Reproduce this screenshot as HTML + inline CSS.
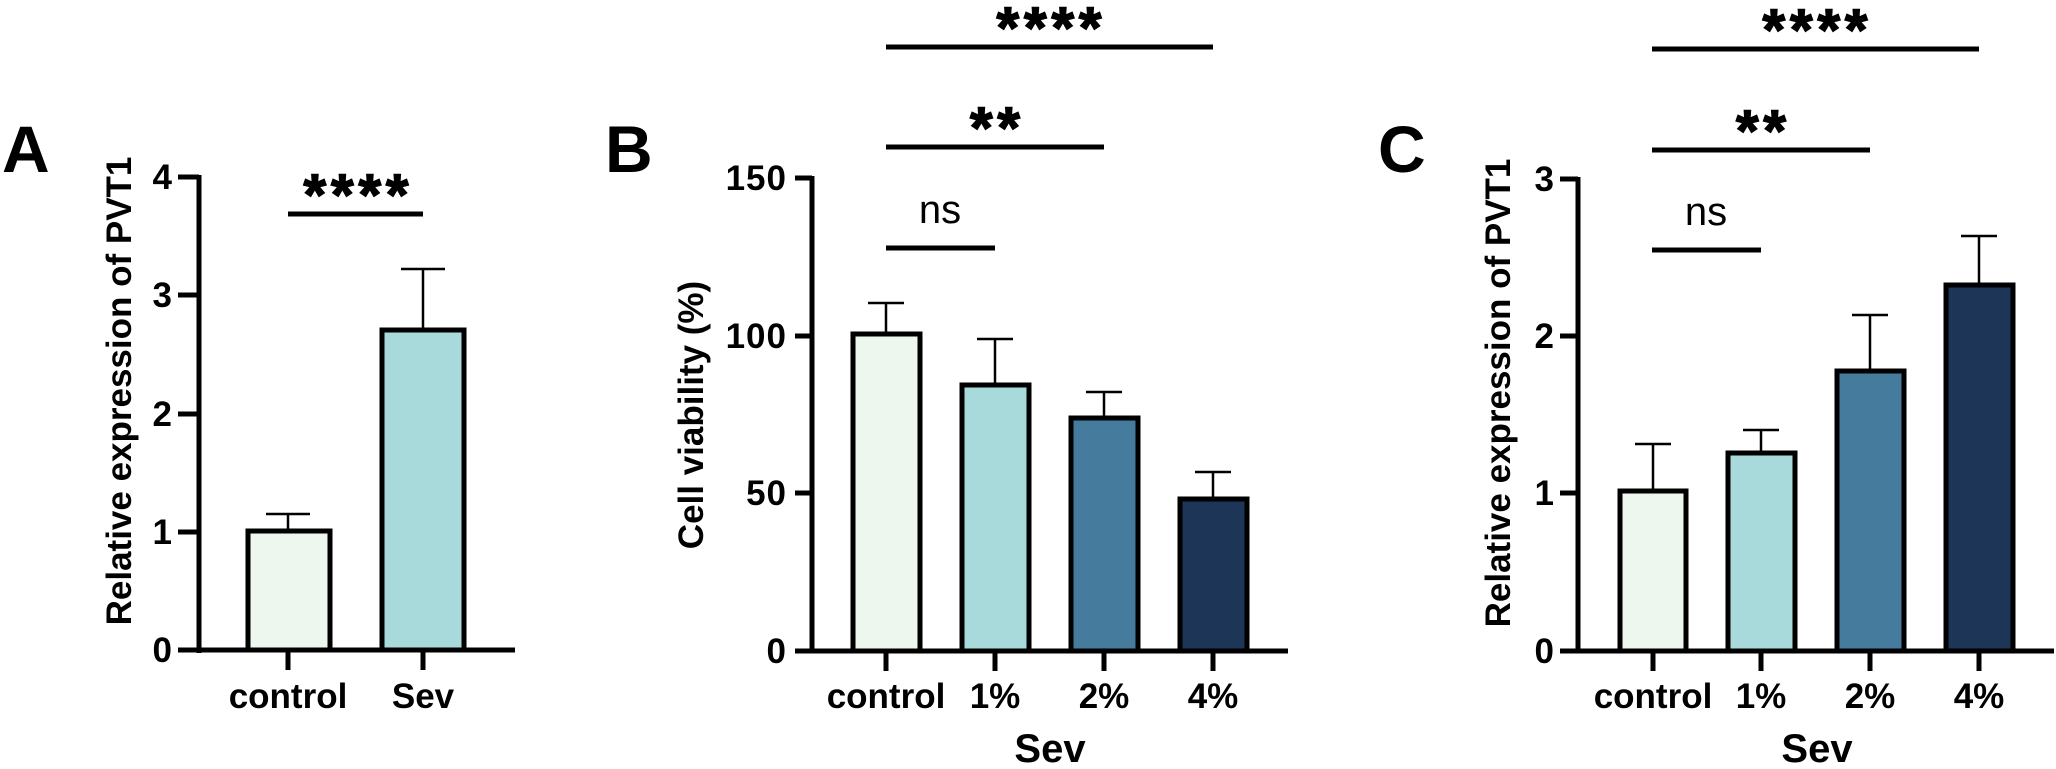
<!DOCTYPE html>
<html><head><meta charset="utf-8"><style>
html,body{margin:0;padding:0;background:#fff;}
svg{display:block;}
text{font-family:"Liberation Sans",Arial,sans-serif;fill:#000;}
.t{font-size:35px;font-weight:bold;letter-spacing:1px;}
.c{font-size:35px;font-weight:bold;}
.sv{font-size:40px;font-weight:bold;}
.ti{font-size:35px;font-weight:bold;}
.L{font-size:66px;font-weight:bold;}
.ns{font-size:40px;}
.st{font-size:58px;font-weight:bold;stroke:#000;stroke-width:1.5px;}
</style></head><body>
<svg width="2056" height="769" viewBox="0 0 2056 769" xmlns="http://www.w3.org/2000/svg">
<g stroke="#000" fill="none">
<!-- Panel A -->
<line x1="199" y1="175" x2="199" y2="653" stroke-width="5"/>
<line x1="178" y1="650" x2="515" y2="650" stroke-width="5"/>
<g stroke-width="5">
<line x1="178" y1="177" x2="199" y2="177"/><line x1="178" y1="295" x2="199" y2="295"/>
<line x1="178" y1="414" x2="199" y2="414"/><line x1="178" y1="532" x2="199" y2="532"/>
<line x1="288" y1="650" x2="288" y2="670"/><line x1="423" y1="650" x2="423" y2="670"/>
</g>
<g stroke-width="2.5">
<line x1="288" y1="531" x2="288" y2="514"/><line x1="266" y1="514" x2="310" y2="514"/>
<line x1="423" y1="330" x2="423" y2="269"/><line x1="401" y1="269" x2="445" y2="269"/>
</g>
<rect x="248" y="531" width="82" height="119" fill="#eef7ee" stroke-width="5"/>
<rect x="382" y="330" width="82" height="320" fill="#a8dadc" stroke-width="5"/>
<line x1="288" y1="214" x2="423" y2="214" stroke-width="5"/>

<!-- Panel B -->
<line x1="812" y1="176" x2="812" y2="653" stroke-width="5"/>
<line x1="795" y1="651" x2="1288" y2="651" stroke-width="5"/>
<g stroke-width="5">
<line x1="795" y1="178" x2="812" y2="178"/><line x1="795" y1="336" x2="812" y2="336"/>
<line x1="795" y1="493" x2="812" y2="493"/>
<line x1="886" y1="651" x2="886" y2="671"/><line x1="995" y1="651" x2="995" y2="671"/>
<line x1="1104" y1="651" x2="1104" y2="671"/><line x1="1213" y1="651" x2="1213" y2="671"/>
</g>
<g stroke-width="2.5">
<line x1="886" y1="334" x2="886" y2="303"/><line x1="868" y1="303" x2="904" y2="303"/>
<line x1="995" y1="385" x2="995" y2="339"/><line x1="977" y1="339" x2="1013" y2="339"/>
<line x1="1104" y1="418" x2="1104" y2="392"/><line x1="1086" y1="392" x2="1122" y2="392"/>
<line x1="1213" y1="499" x2="1213" y2="472"/><line x1="1195" y1="472" x2="1231" y2="472"/>
</g>
<rect x="853" y="334" width="67" height="317" fill="#eef7ee" stroke-width="5"/>
<rect x="962" y="385" width="67" height="266" fill="#a8dadc" stroke-width="5"/>
<rect x="1071" y="418" width="67" height="233" fill="#457b9d" stroke-width="5"/>
<rect x="1180" y="499" width="67" height="152" fill="#1d3557" stroke-width="5"/>
<g stroke-width="5">
<line x1="886" y1="248" x2="995" y2="248"/>
<line x1="886" y1="147" x2="1104" y2="147"/>
<line x1="886" y1="47" x2="1213" y2="47"/>
</g>

<!-- Panel C -->
<line x1="1578" y1="177" x2="1578" y2="653" stroke-width="5"/>
<line x1="1560" y1="651" x2="2054" y2="651" stroke-width="5"/>
<g stroke-width="5">
<line x1="1560" y1="179" x2="1578" y2="179"/><line x1="1560" y1="336" x2="1578" y2="336"/>
<line x1="1560" y1="493" x2="1578" y2="493"/>
<line x1="1653" y1="651" x2="1653" y2="671"/><line x1="1761" y1="651" x2="1761" y2="671"/>
<line x1="1870" y1="651" x2="1870" y2="671"/><line x1="1979" y1="651" x2="1979" y2="671"/>
</g>
<g stroke-width="2.5">
<line x1="1653" y1="491" x2="1653" y2="444"/><line x1="1635" y1="444" x2="1671" y2="444"/>
<line x1="1761" y1="453" x2="1761" y2="430"/><line x1="1743" y1="430" x2="1779" y2="430"/>
<line x1="1870" y1="371" x2="1870" y2="315"/><line x1="1852" y1="315" x2="1888" y2="315"/>
<line x1="1979" y1="285" x2="1979" y2="236"/><line x1="1961" y1="236" x2="1997" y2="236"/>
</g>
<rect x="1620" y="491" width="66" height="160" fill="#eef7ee" stroke-width="5"/>
<rect x="1728" y="453" width="67" height="198" fill="#a8dadc" stroke-width="5"/>
<rect x="1837" y="371" width="67" height="280" fill="#457b9d" stroke-width="5"/>
<rect x="1946" y="285" width="67" height="366" fill="#1d3557" stroke-width="5"/>
<g stroke-width="5">
<line x1="1652" y1="250" x2="1761" y2="250"/>
<line x1="1652" y1="150" x2="1870" y2="150"/>
<line x1="1652" y1="49" x2="1979" y2="49"/>
</g>
</g>

<!-- Text A -->
<text class="L" x="2" y="172">A</text>
<g class="t" text-anchor="end">
<text x="173" y="189">4</text><text x="173" y="307">3</text><text x="173" y="426">2</text>
<text x="173" y="544">1</text><text x="173" y="662">0</text>
</g>
<text class="c" x="288" y="708" text-anchor="middle">control</text>
<text class="c" x="423" y="708" text-anchor="middle">Sev</text>
<text class="ti" transform="translate(131,391) rotate(-90)" text-anchor="middle">Relative expression of PVT1</text>
<text class="st" x="356" y="215" text-anchor="middle" textLength="105" lengthAdjust="spacing">****</text>

<!-- Text B -->
<text class="L" x="605" y="172">B</text>
<g class="t" text-anchor="end">
<text x="787" y="190">150</text><text x="787" y="348">100</text><text x="787" y="505">50</text>
<text x="787" y="663">0</text>
</g>
<g class="c" text-anchor="middle">
<text x="886" y="708">control</text><text x="995" y="708">1%</text>
<text x="1104" y="708">2%</text><text x="1213" y="708">4%</text>
</g>
<text class="sv" x="1050" y="762" text-anchor="middle">Sev</text>
<text class="ti" transform="translate(703,415) rotate(-90)" text-anchor="middle">Cell viability (%)</text>
<text class="ns" x="940" y="223" text-anchor="middle">ns</text>
<text class="st" x="995" y="148" text-anchor="middle" textLength="50" lengthAdjust="spacing">**</text>
<text class="st" x="1049" y="48" text-anchor="middle" textLength="105" lengthAdjust="spacing">****</text>

<!-- Text C -->
<text class="L" x="1378" y="172">C</text>
<g class="t" text-anchor="end">
<text x="1555" y="191">3</text><text x="1555" y="348">2</text><text x="1555" y="505">1</text>
<text x="1555" y="663">0</text>
</g>
<g class="c" text-anchor="middle">
<text x="1653" y="708">control</text><text x="1761" y="708">1%</text>
<text x="1870" y="708">2%</text><text x="1979" y="708">4%</text>
</g>
<text class="sv" x="1817" y="762" text-anchor="middle">Sev</text>
<text class="ti" transform="translate(1510,393) rotate(-90)" text-anchor="middle">Relative expression of PVT1</text>
<text class="ns" x="1706" y="225" text-anchor="middle">ns</text>
<text class="st" x="1761" y="151" text-anchor="middle" textLength="50" lengthAdjust="spacing">**</text>
<text class="st" x="1815" y="50" text-anchor="middle" textLength="105" lengthAdjust="spacing">****</text>
</svg>
</body></html>
